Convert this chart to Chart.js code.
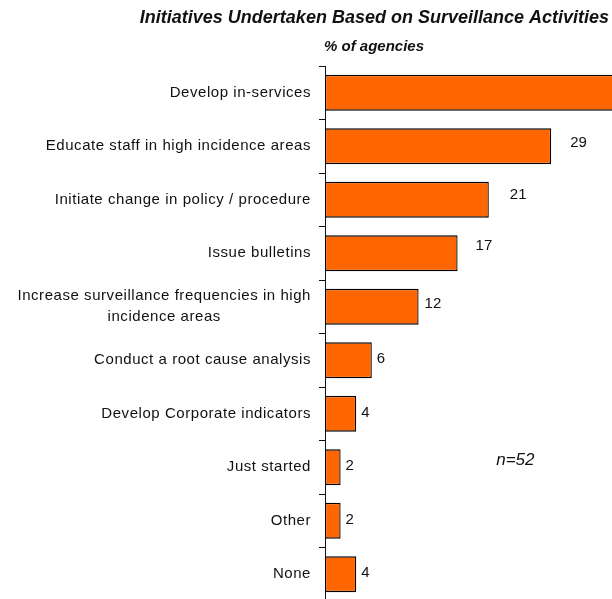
<!DOCTYPE html>
<html>
<head>
<meta charset="utf-8">
<script src="https://cdn.jsdelivr.net/npm/chart.js@4.4.1/dist/chart.umd.min.js"></script>
<style>
  html, body { margin: 0; padding: 0; background: #fff; overflow: hidden; width: 612px; height: 599px; }
  #wrap { position: relative; width: 715px; height: 601px; }
</style>
</head>
<body>
<div id="wrap"><canvas id="c" width="715" height="601"></canvas></div>
<script>
const categories = [
  ["Develop in-services"],
  ["Educate staff in high incidence areas"],
  ["Initiate change in policy / procedure"],
  ["Issue bulletins"],
  ["Increase surveillance frequencies in high", "incidence areas"],
  ["Conduct a root cause analysis"],
  ["Develop Corporate indicators"],
  ["Just started"],
  ["Other"],
  ["None"]
];
const values = [40, 29, 21, 17, 12, 6, 4, 2, 2, 4];
const titleText = "Initiatives Undertaken Based on Surveillance Activities";
const subtitleText = "% of agencies";
const noteText = "n=52";
// label offsets (style only)
const labelDx = [19, 19, 21, 18, 6, 5, 5, 5, 5, 5];
const labelDy = [-3, -3, -5, -7, -3, -1, -1, -1, -1, -1];

const FONT = "'Liberation Sans', Arial, sans-serif";
const TEXT = "#111111";

const drawPlugin = {
  id: 'custom',
  afterDraw(chart) {
    const ctx = chart.ctx;
    const ys = chart.scales.y;
    const area = chart.chartArea;
    ctx.save();
    // Title
    ctx.fillStyle = TEXT;
    ctx.font = "bold italic 18px " + FONT;
    ctx.textAlign = "right";
    ctx.textBaseline = "middle";
    ctx.fillText(titleText, 609, 18);
    // Subtitle
    ctx.font = "bold italic 15px " + FONT;
    ctx.textAlign = "left";
    ctx.fillText(subtitleText, area.left - 1, 47);
    // Category labels
    ctx.font = "15px " + FONT;
    ctx.letterSpacing = "0.55px";
    categories.forEach((lines, i) => {
      const cy = ys.getPixelForValue(i);
      const lh = 21;
      ctx.textBaseline = "middle";
      if (lines.length === 1) {
        ctx.textAlign = "right";
        ctx.fillText(lines[0], area.left - 14, cy);
      } else {
        const widths = lines.map(l => ctx.measureText(l).width);
        const maxW = Math.max(...widths);
        const cx = area.left - 14 - maxW / 2;
        ctx.textAlign = "center";
        lines.forEach((l, k) => {
          ctx.fillText(l, cx, cy + (k - (lines.length - 1) / 2) * lh);
        });
      }
    });
    ctx.letterSpacing = "0px";
    // Value labels
    const meta = chart.getDatasetMeta(0);
    ctx.font = "15px " + FONT;
    ctx.textAlign = "left";
    ctx.textBaseline = "middle";
    meta.data.forEach((bar, i) => {
      ctx.fillText(String(values[i]), bar.x + labelDx[i], bar.y + labelDy[i]);
    });
    // note
    ctx.font = "italic 17px " + FONT;
    ctx.textAlign = "center";
    const nx = chart.scales.x.getPixelForValue(24.4);
    ctx.fillText(noteText, nx, (ys.getPixelForValue(7) + ys.getPixelForValue(6.75)) / 2);
    ctx.restore();
  }
};

new Chart(document.getElementById('c'), {
  type: 'bar',
  data: {
    labels: categories,
    datasets: [{
      data: values,
      backgroundColor: '#FF6600',
      borderColor: '#000000',
      borderWidth: 1.3,
      borderSkipped: false,
      barPercentage: 0.67,
      categoryPercentage: 1.0
    }]
  },
  options: {
    indexAxis: 'y',
    responsive: false,
    animation: false,
    layout: { padding: { left: 319, top: 66, right: 0, bottom: 0 } },
    plugins: { legend: { display: false }, tooltip: { enabled: false }, title: { display: false } },
    scales: {
      x: { display: false, min: 0, max: 50 },
      y: {
        display: true,
        afterFit(s) { s.width = 6; },
        ticks: { display: false },
        grid: { display: true, offset: true, drawOnChartArea: false, drawTicks: true, tickLength: 6, color: '#111111', lineWidth: 1 },
        border: { display: true, color: '#111111', width: 1 }
      }
    }
  },
  plugins: [drawPlugin]
});
</script>
</body>
</html>
